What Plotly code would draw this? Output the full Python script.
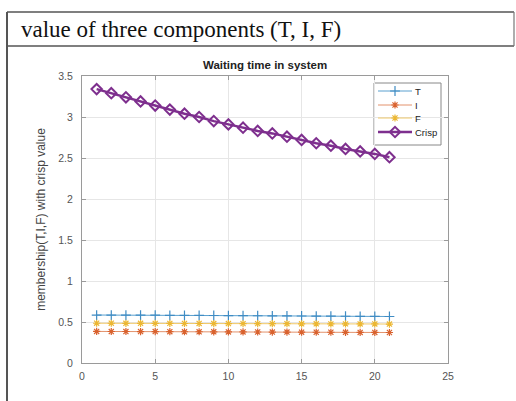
import plotly.graph_objects as go

x_vals = list(range(1, 22))
T_vals = [0.585, 0.585, 0.584, 0.584, 0.583, 0.582, 0.581, 0.580, 0.579, 0.578, 0.577,
          0.576, 0.575, 0.574, 0.573, 0.572, 0.571, 0.570, 0.569, 0.568, 0.567]
I_vals = [0.385, 0.384, 0.384, 0.383, 0.383, 0.382, 0.381, 0.381, 0.380, 0.379, 0.379,
          0.378, 0.377, 0.377, 0.376, 0.375, 0.375, 0.374, 0.373, 0.373, 0.372]
F_vals = [0.485, 0.485, 0.484, 0.484, 0.483, 0.483, 0.482, 0.482, 0.481, 0.481, 0.480,
          0.480, 0.479, 0.479, 0.478, 0.478, 0.477, 0.477, 0.476, 0.476, 0.475]
Crisp_vals = [3.34, 3.29, 3.24, 3.19, 3.14, 3.09, 3.04, 3.00, 2.95, 2.91, 2.87,
              2.83, 2.80, 2.76, 2.72, 2.68, 2.65, 2.61, 2.58, 2.55, 2.51]
series_names = ["T", "I", "F", "Crisp"]

W, H = 516, 401
ml, mr, mt, mb = 82, 68, 76, 38
pw, ph = W - ml - mr, H - mt - mb

styles = {
    "T": dict(line=dict(color="#5aa0cf", width=1),
              marker=dict(symbol="cross-thin", size=7, line=dict(color="#3f8cc4", width=1.2))),
    "I": dict(line=dict(color="#e3926c", width=1),
              marker=dict(symbol="asterisk", size=6, line=dict(color="#d9622e", width=1.2))),
    "F": dict(line=dict(color="#f0c96a", width=1),
              marker=dict(symbol="asterisk", size=6, line=dict(color="#ecb733", width=1.2))),
    "Crisp": dict(line=dict(color="#7e2f8e", width=2.5),
                  marker=dict(symbol="diamond-open", size=8, color="#7e2f8e",
                              line=dict(color="#7e2f8e", width=2))),
}
data = {"T": T_vals, "I": I_vals, "F": F_vals, "Crisp": Crisp_vals}

fig = go.Figure()
for nm in series_names:
    fig.add_trace(go.Scatter(x=x_vals, y=data[nm], name=nm, mode="lines+markers",
                             showlegend=False, **styles[nm]))

# custom compact legend drawn on an overlay axis in pixel units
leg_x0, leg_x1, leg_y0, leg_y1 = 374, 441, 83, 145
row_y = [91, 105, 118, 132]
annotations = []
for nm, ry in zip(series_names, row_y):
    fig.add_trace(go.Scatter(x=[378, 395, 412], y=[ry, ry, ry], mode="lines",
                             line=styles[nm]["line"], xaxis="x2", yaxis="y2",
                             showlegend=False, hoverinfo="skip"))
    fig.add_trace(go.Scatter(x=[395], y=[ry], mode="markers", marker=styles[nm]["marker"],
                             xaxis="x2", yaxis="y2", showlegend=False, hoverinfo="skip"))
    annotations.append(dict(text=nm, xref="x2", yref="y2", x=413, y=ry, xanchor="left",
                            yanchor="middle", showarrow=False,
                            font=dict(family="Arial", size=9.5, color="#222222")))

axis_common = dict(showline=True, linecolor="#9a9a9a", linewidth=1, mirror="ticks",
                   ticks="inside", ticklen=4, tickcolor="#9a9a9a",
                   showgrid=True, gridcolor="#e6e6e6", gridwidth=1, zeroline=False,
                   tickfont=dict(family="Arial", size=10.5, color="#555555"))

fig.update_xaxes(range=[0, 25], tickvals=[0, 5, 10, 15, 20, 25], ticklabelstandoff=3,
                 **axis_common)
fig.update_yaxes(range=[0, 3.5], tickvals=[0, 0.5, 1, 1.5, 2, 2.5, 3, 3.5],
                 ticktext=["0", "0.5", "1", "1.5", "2", "2.5", "3", "3.5"],
                 ticklabelstandoff=6,
                 title=dict(text="membership(T,I,F) with crisp value",
                            font=dict(family="Arial", size=12, color="#444444"), standoff=10),
                 **axis_common)

shapes = []
def pline(x0, y0, x1, y1, w=1.5, c="#555555"):
    shapes.append(dict(type="line", xref="paper", yref="paper",
                       x0=x0, y0=y0, x1=x1, y1=y1, line=dict(color=c, width=w)))

def px_to_paper(px, py):
    return (px - ml) / pw, 1 - (py - mt) / ph

a = px_to_paper(7, 12); b = px_to_paper(514, 12)
pline(a[0], a[1], b[0], b[1], w=1.5)
a = px_to_paper(7, 46); b = px_to_paper(514, 46)
pline(a[0], a[1], b[0], b[1], w=1.5)
a = px_to_paper(514, 12); b = px_to_paper(514, 46)
pline(a[0], a[1], b[0], b[1], w=1.2, c="#777777")
a = px_to_paper(7, 12); b = px_to_paper(7, 401)
pline(a[0], a[1], b[0], b[1], w=2, c="#555555")
# legend box
shapes.append(dict(type="rect", xref="x2", yref="y2", x0=leg_x0, x1=leg_x1, y0=leg_y0,
                   y1=leg_y1, fillcolor="white", line=dict(color="#888888", width=1),
                   layer="below"))

hx, hy = px_to_paper(19, 29)
tx, ty = px_to_paper(265, 65)

annotations += [
    dict(text="value of three components (T, I, F)", xref="paper", yref="paper",
         x=hx, y=hy, xanchor="left", yanchor="middle", showarrow=False,
         font=dict(family="Liberation Serif", size=23, color="#111111")),
    dict(text="<b>Waiting time in system</b>", xref="paper", yref="paper",
         x=tx, y=ty, xanchor="center", yanchor="middle", showarrow=False,
         font=dict(family="Arial", size=11.5, color="#222222")),
]

fig.update_layout(
    width=W, height=H,
    margin=dict(l=ml, r=mr, t=mt, b=mb, pad=0),
    paper_bgcolor="white", plot_bgcolor="white",
    showlegend=False,
    xaxis2=dict(range=[ml, W - mr], overlaying="x", visible=False, fixedrange=True),
    yaxis2=dict(range=[H - mb, mt], overlaying="y", visible=False, fixedrange=True),
    shapes=shapes,
    annotations=annotations,
)

fig.write_html("out.html")
